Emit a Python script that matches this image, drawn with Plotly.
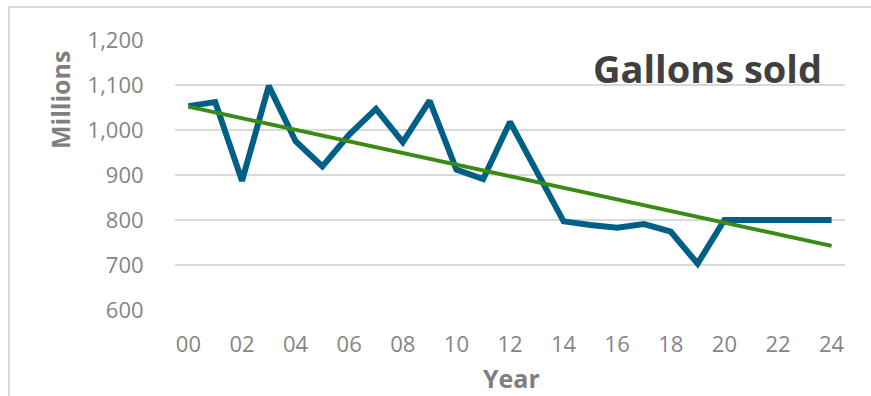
import numpy as np
import plotly.graph_objects as go

# Annual gallons sold (millions), years 2000-2024
years = list(range(0, 25))
year_labels = [f"{y:02d}" for y in years]
gallons = [1053, 1062, 887, 1098, 975, 919, 990, 1047, 973, 1065,
           912, 891, 1018, 905, 797, 789, 783, 791, 774, 703,
           800, 800, 800, 800, 800]

y_ticks = [600, 700, 800, 900, 1000, 1100, 1200]

# Linear trend fitted to the series
slope, intercept = np.polyfit(years, gallons, 1)
trend = [slope * x + intercept for x in years]

BLUE = "#005F86"
GREEN = "#3A8A14"
GRID = "#D9D9D9"
TICK_GREY = "#858585"

# plot area in pixels: x 175..845, y 40..310
PL, PR, PT, PB = 175, 845, 40, 310
def px(x):
    return (x - PL) / (PR - PL)
def py(y):
    return (PB - y) / (PB - PT)

fig = go.Figure()
fig.add_trace(go.Scatter(
    x=years, y=gallons, mode="lines",
    line=dict(color=BLUE, width=6), showlegend=False,
))
fig.add_trace(go.Scatter(
    x=years, y=trend, mode="lines",
    line=dict(color=GREEN, width=4), showlegend=False,
))

fig.update_layout(
    width=871, height=396,
    margin=dict(l=PL, r=871 - PR, t=PT, b=396 - PB),
    paper_bgcolor="white", plot_bgcolor="white",
    font=dict(family="Open Sans", color=TICK_GREY),
    xaxis=dict(
        range=[-0.5, 24.5],
        tickmode="array",
        tickvals=years[::2],
        ticktext=year_labels[::2],
        showgrid=False, zeroline=False, showline=False,
        ticks="outside", ticklen=15, tickcolor="rgba(0,0,0,0)",
        tickfont=dict(size=22, color=TICK_GREY),
    ),
    yaxis=dict(
        range=[600, 1200],
        tickmode="array",
        tickvals=y_ticks,
        ticktext=[f"{v:,}" for v in y_ticks],
        showgrid=True, gridcolor=GRID, gridwidth=2,
        zeroline=False, showline=False,
        ticks="outside", ticklen=26, tickcolor="rgba(0,0,0,0)",
        tickfont=dict(size=22, color=TICK_GREY),
    ),
    annotations=[
        dict(text="<b>Millions</b>", textangle=-90,
             xref="paper", yref="paper", x=px(60), y=py(100),
             xanchor="center", yanchor="middle",
             showarrow=False, font=dict(size=25, color="#7F7F7F")),
        dict(text="<b>Year</b>",
             xref="paper", yref="paper", x=px(511), y=py(378),
             xanchor="center", yanchor="middle",
             showarrow=False, font=dict(size=25, color="#7F7F7F")),
        dict(text="<b>Gallons sold</b>",
             xref="paper", yref="paper", x=px(707), y=py(68),
             xanchor="center", yanchor="middle",
             showarrow=False, font=dict(size=38, color="#404040")),
    ],
    shapes=[
        dict(type="rect", xref="paper", yref="paper",
             x0=px(9), x1=px(880), y0=py(410), y1=py(7),
             line=dict(color=GRID, width=2), layer="below"),
    ],
)

fig.write_html("out.html")
